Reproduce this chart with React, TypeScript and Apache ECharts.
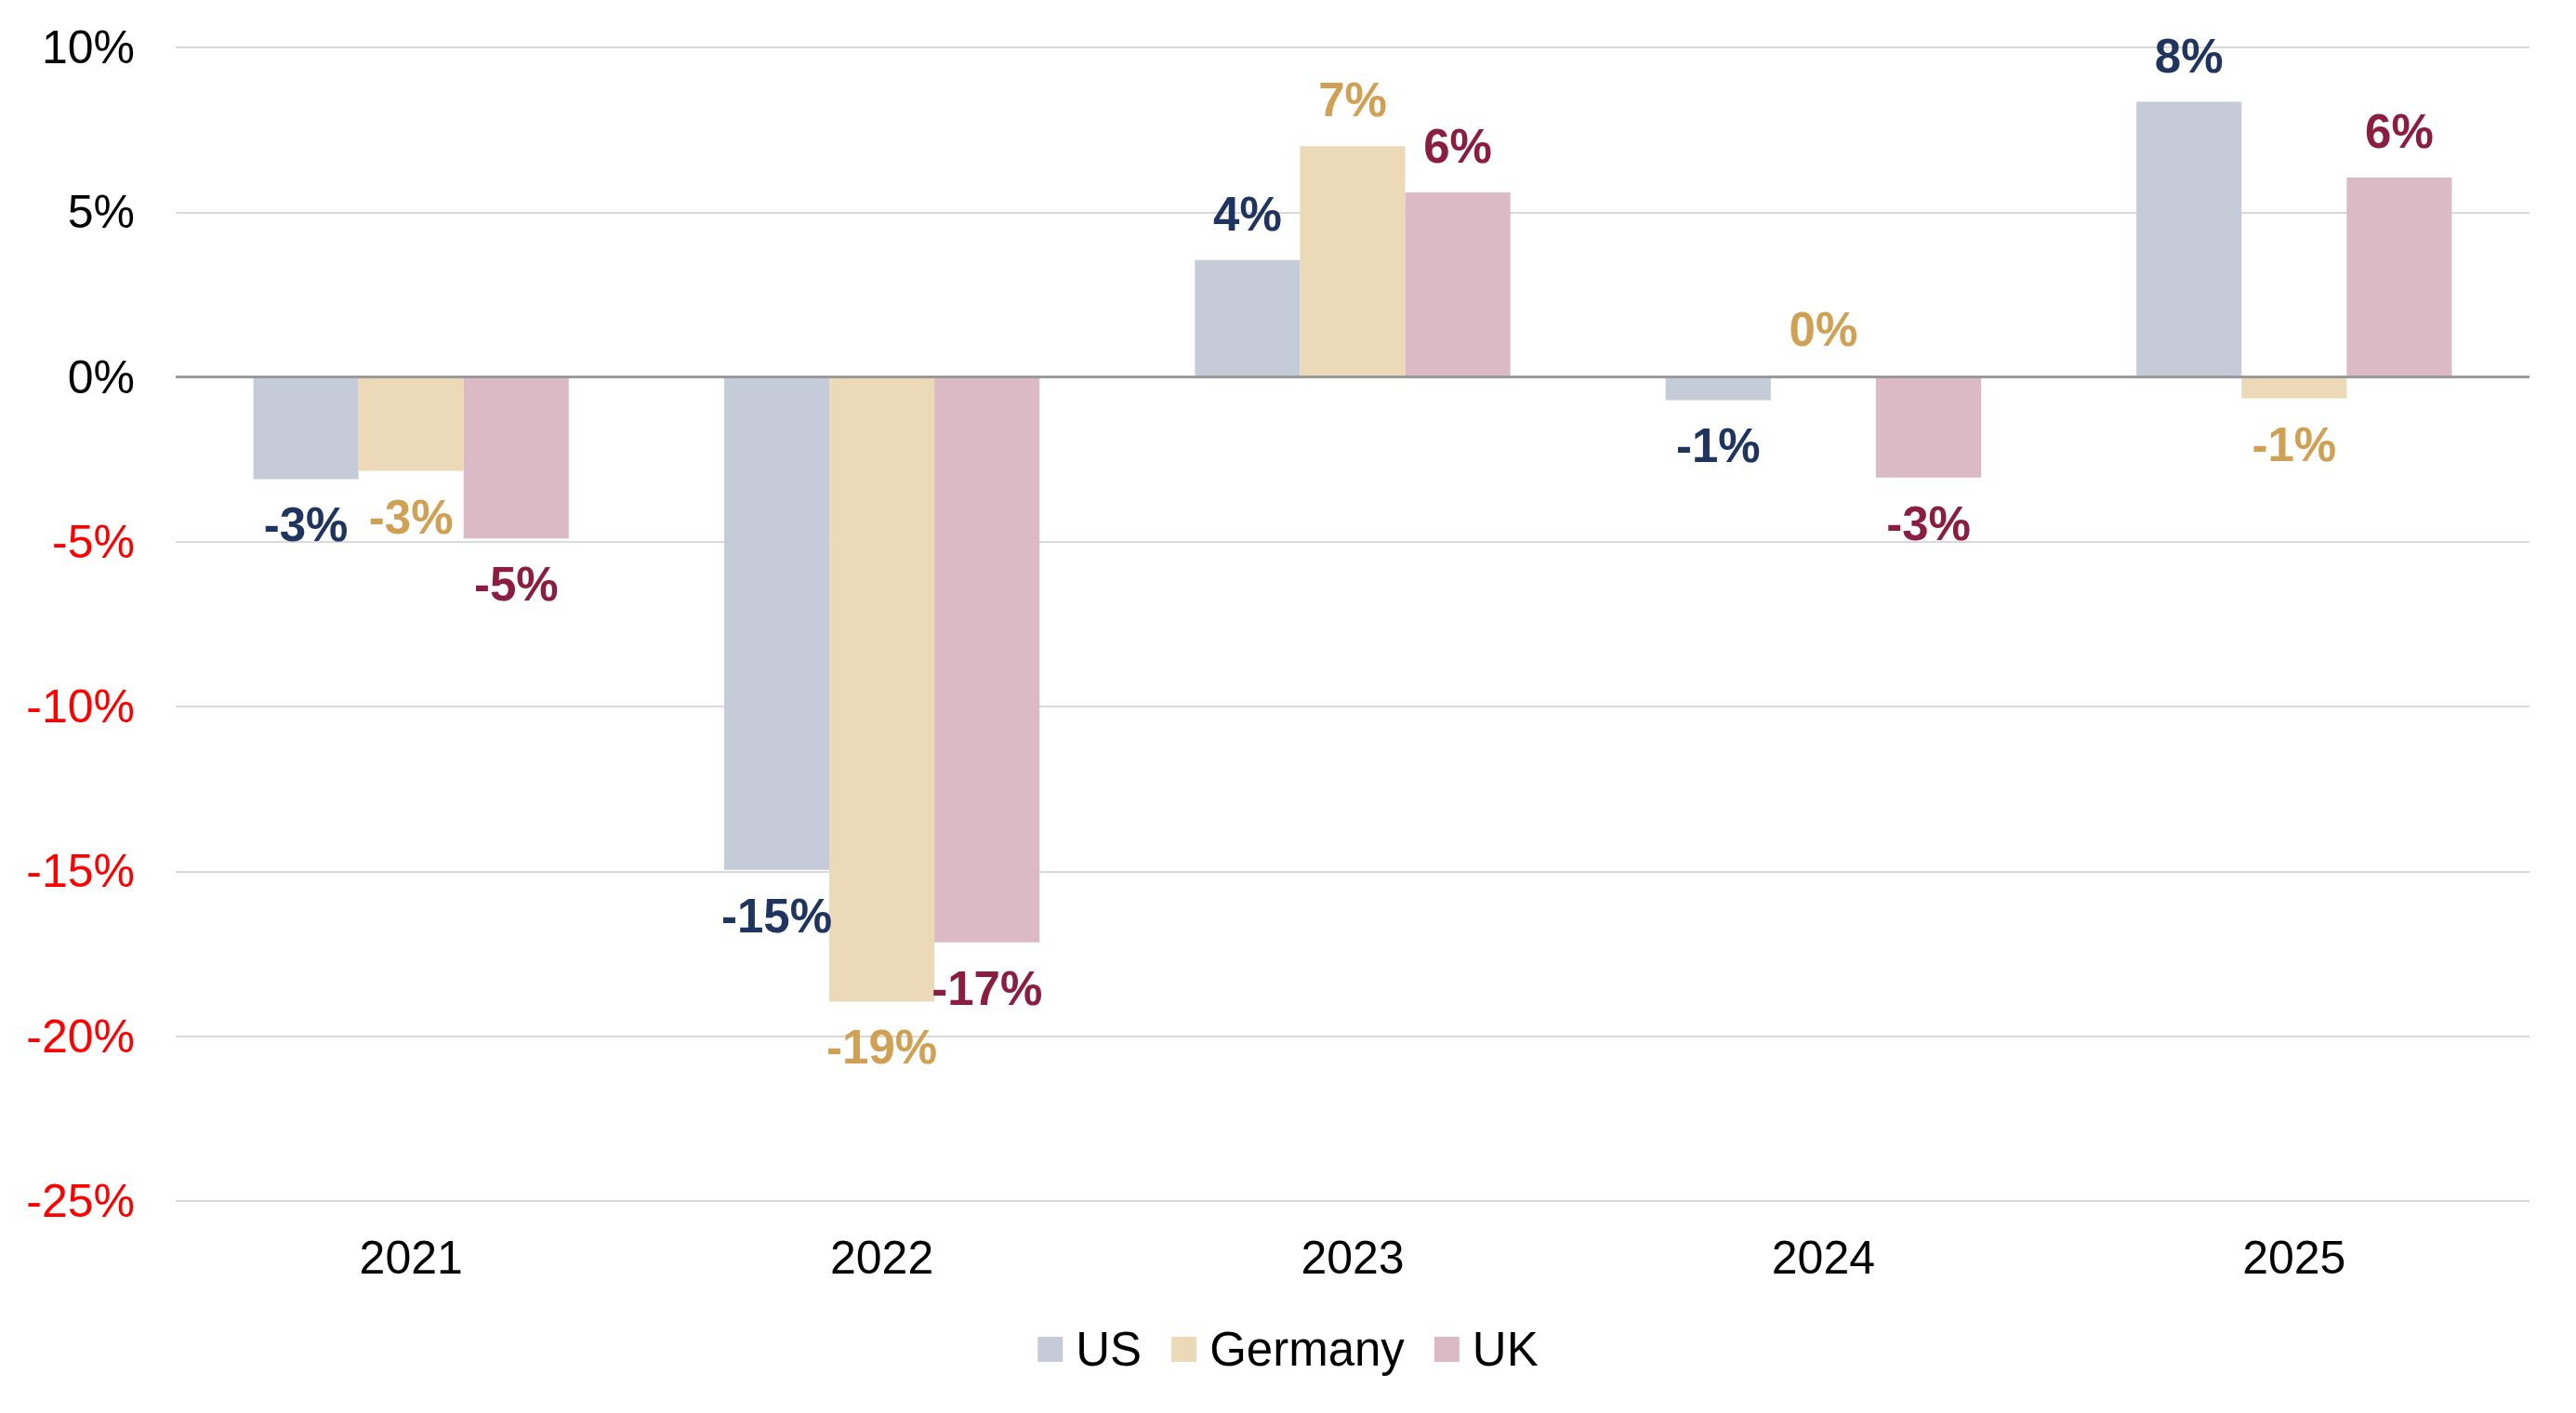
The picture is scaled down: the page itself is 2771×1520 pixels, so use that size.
import React, { useEffect, useRef } from "react";
import * as echarts from "echarts";

// Annual change, in percent, per country
const years = ["2021", "2022", "2023", "2024", "2025"];
const usValues = [-3.1, -14.95, 3.55, -0.7, 8.35];
const germanyValues = [-2.85, -18.95, 7.0, 0.05, -0.65];
const ukValues = [-4.9, -17.15, 5.6, -3.05, 6.05];

const yTicks = { min: -25, max: 10, interval: 5 };

const FONT = 'Arial, "Liberation Sans", sans-serif';

const seriesDefs = [
  { name: "US", values: usValues, bar: "#C5CBD8", label: "#1F3560" },
  { name: "Germany", values: germanyValues, bar: "#ECD9B8", label: "#D0A154" },
  { name: "UK", values: ukValues, bar: "#DCBAC5", label: "#8B1D40" },
];

export default function App() {
  const ref = useRef<HTMLDivElement>(null);

  useEffect(() => {
    if (!ref.current) return;
    const chart = echarts.init(ref.current, undefined, { renderer: "svg" });

    const series = seriesDefs.map((s, i) => ({
      name: s.name,
      type: "bar",
      barGap: "0%",
      barCategoryGap: "33%",
      itemStyle: { color: s.bar },
      data: s.values.map((v) => ({
        value: v,
        label: { position: v >= 0 ? "top" : "bottom" },
      })),
      label: {
        show: true,
        distance: 24,
        color: s.label,
        fontFamily: FONT,
        fontWeight: "bold",
        fontSize: 51,
        formatter: (p: any) => `${Math.round(p.value)}%`,
      },
      ...(i === 0
        ? {
            markLine: {
              silent: true,
              symbol: "none",
              label: { show: false },
              lineStyle: { color: "#9A9A9A", width: 3, type: "solid" },
              data: [{ yAxis: 0 }],
            },
          }
        : {}),
    }));

    chart.setOption({
      animation: false,
      backgroundColor: "#FFFFFF",
      textStyle: { fontFamily: FONT },
      grid: { left: 189, right: 50, top: 51, bottom: 228, containLabel: false },
      legend: {
        bottom: 38,
        left: "center",
        itemWidth: 27,
        itemHeight: 27,
        itemGap: 32,
        icon: "rect",
        textStyle: { fontSize: 51, color: "#000000", fontFamily: FONT, padding: [0, 0, 0, 9] },
        data: seriesDefs.map((s) => s.name),
      },
      xAxis: {
        type: "category",
        data: years,
        axisLine: { show: false, onZero: false },
        axisTick: { show: false },
        axisLabel: { fontSize: 50, color: "#000000", fontFamily: FONT, margin: 36 },
      },
      yAxis: {
        type: "value",
        min: yTicks.min,
        max: yTicks.max,
        interval: yTicks.interval,
        axisLine: { show: false },
        axisTick: { show: false },
        splitLine: { lineStyle: { color: "#D9D9D9", width: 2 } },
        axisLabel: {
          fontSize: 50,
          fontFamily: FONT,
          margin: 44,
          formatter: (v: number) => `${v}%`,
          color: (v: any) => (Number(v) < 0 ? "#FF0000" : "#000000"),
        },
      },
      series,
    });

    return () => chart.dispose();
  }, []);

  return (
    <div
      ref={ref}
      style={{ position: "fixed", left: 0, top: 0, width: 2771, height: 1520, background: "#FFFFFF" }}
    />
  );
}
